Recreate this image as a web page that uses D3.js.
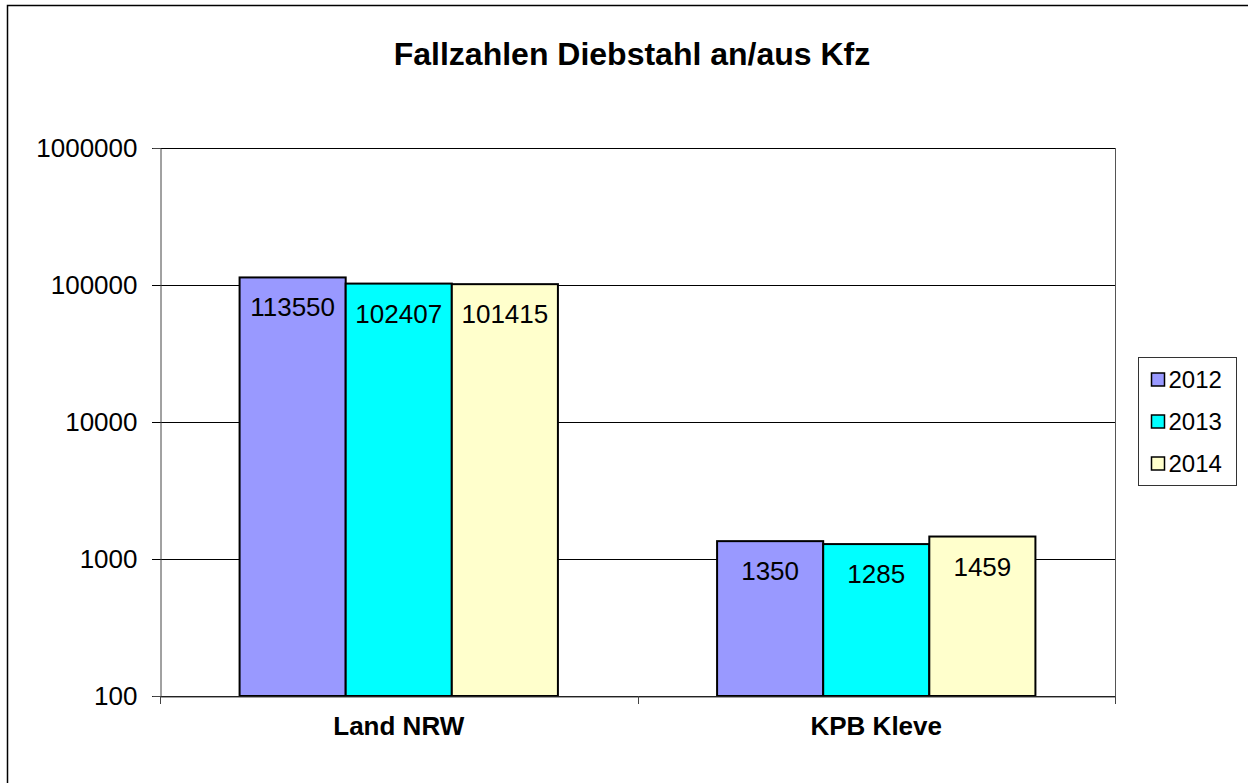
<!DOCTYPE html>
<html>
<head>
<meta charset="utf-8">
<script src="https://cdn.jsdelivr.net/npm/d3@7"></script>
<style>
  body { margin: 0; background: #fff; }
  svg { font-family: "Liberation Sans", Arial, sans-serif; }
</style>
</head>
<body>
<svg id="chart" width="1248" height="783"></svg>
<script>
// data
var categories = ["Land NRW", "KPB Kleve"];
var years = ["2012", "2013", "2014"];
var values2012 = [113550, 1350];
var values2013 = [102407, 1285];
var values2014 = [101415, 1459];
var colors = ["#9999FF", "#00FFFF", "#FFFFCC"];
var yTicks = [100, 1000, 10000, 100000, 1000000];

var seriesValues = [values2012, values2013, values2014];

var svg = d3.select("#chart");
var margin = {top: 148, right: 133, bottom: 87, left: 160};
var width = 1248, height = 783;

// outer border
svg.append("rect")
    .attr("x", 7.5).attr("y", 5.5)
    .attr("width", 1260).attr("height", 800)
    .attr("fill", "none").attr("stroke", "#000").attr("stroke-width", 1.5);

// title
svg.append("text")
    .attr("x", 632).attr("y", 65)
    .attr("text-anchor", "middle")
    .attr("font-size", "32px").attr("font-weight", "bold")
    .text("Fallzahlen Diebstahl an/aus Kfz");

var x0 = d3.scaleBand()
    .domain(categories)
    .range([margin.left, width - margin.right]);

var x1 = d3.scaleBand()
    .domain(years)
    .range([0, x0.bandwidth()])
    .paddingOuter(0.75);

var y = d3.scaleLog()
    .domain([100, 1000000])
    .range([height - margin.bottom, margin.top]);

// gridlines
svg.append("g")
    .selectAll("line")
    .data(yTicks)
    .enter()
    .append("line")
    .attr("x1", margin.left - 8)
    .attr("x2", width - margin.right)
    .attr("y1", function(d) { return Math.round(y(d)) + 0.5; })
    .attr("y2", function(d) { return Math.round(y(d)) + 0.5; })
    .attr("stroke", "#000").attr("stroke-width", 1);

// plot area right side
svg.append("line")
    .attr("x1", width - margin.right + 0.5).attr("x2", width - margin.right + 0.5)
    .attr("y1", margin.top).attr("y2", height - margin.bottom)
    .attr("stroke", "#555");

// y axis
var yAxis = d3.axisLeft(y)
    .tickValues(yTicks)
    .tickFormat(d3.format("d"))
    .tickSize(8)
    .tickPadding(15);

var gy = svg.append("g")
    .attr("transform", "translate(" + (margin.left + 0.5) + ",0)")
    .call(yAxis);
gy.select(".domain").attr("stroke", "#444");
gy.selectAll(".tick line").remove();
gy.selectAll("text")
    .attr("font-size", "26px")
    .attr("font-family", "Liberation Sans, Arial, sans-serif")
    .attr("fill", "#000");

// bars
var groups = svg.append("g")
    .selectAll("g")
    .data(categories)
    .enter()
    .append("g")
    .attr("transform", function(d) { return "translate(" + x0(d) + ",0)"; });

groups.selectAll("rect")
    .data(function(d, i) {
        return years.map(function(yr, j) { return {year: yr, value: seriesValues[j][i], color: colors[j]}; });
    })
    .enter()
    .append("rect")
    .attr("x", function(d) { return x1(d.year); })
    .attr("width", x1.bandwidth())
    .attr("y", function(d) { return y(d.value); })
    .attr("height", function(d) { return y(100) - y(d.value); })
    .attr("fill", function(d) { return d.color; })
    .attr("stroke", "#000")
    .attr("stroke-width", 2);

groups.selectAll("text.val")
    .data(function(d, i) {
        return years.map(function(yr, j) { return {year: yr, value: seriesValues[j][i]}; });
    })
    .enter()
    .append("text")
    .attr("class", "val")
    .attr("x", function(d) { return x1(d.year) + x1.bandwidth() / 2; })
    .attr("y", function(d) { return y(d.value) + 39; })
    .attr("text-anchor", "middle")
    .attr("font-size", "26px")
    .text(function(d) { return d.value; });

// x axis
var xAxis = d3.axisBottom(x0).tickSize(0).tickPadding(20);
var gx = svg.append("g")
    .attr("transform", "translate(0," + (height - margin.bottom + 0.5) + ")")
    .call(xAxis);
gx.select(".domain").attr("stroke", "#444");
gx.selectAll("text")
    .attr("font-size", "26px")
    .attr("font-weight", "bold")
    .attr("font-family", "Liberation Sans, Arial, sans-serif")
    .attr("fill", "#000");

// category separator ticks
svg.append("g")
    .selectAll("line")
    .data([margin.left, x0(categories[1]), width - margin.right])
    .enter()
    .append("line")
    .attr("x1", function(d) { return Math.round(d) + 0.5; })
    .attr("x2", function(d) { return Math.round(d) + 0.5; })
    .attr("y1", height - margin.bottom)
    .attr("y2", height - margin.bottom + 8)
    .attr("stroke", "#444");

// legend
var legend = svg.append("g").attr("transform", "translate(1138.5,357.5)");
legend.append("rect")
    .attr("width", 98).attr("height", 128)
    .attr("fill", "#fff").attr("stroke", "#333");

var items = legend.selectAll("g")
    .data(years)
    .enter()
    .append("g")
    .attr("transform", function(d, i) { return "translate(13," + (22 + i * 42) + ")"; });

items.append("rect")
    .attr("x", 0).attr("y", -6.5)
    .attr("width", 13).attr("height", 13)
    .attr("fill", function(d, i) { return colors[i]; })
    .attr("stroke", "#000").attr("stroke-width", 1.5);

items.append("text")
    .attr("x", 17).attr("y", 8.5)
    .attr("font-size", "24px")
    .text(function(d) { return d; });
</script>
</body>
</html>
